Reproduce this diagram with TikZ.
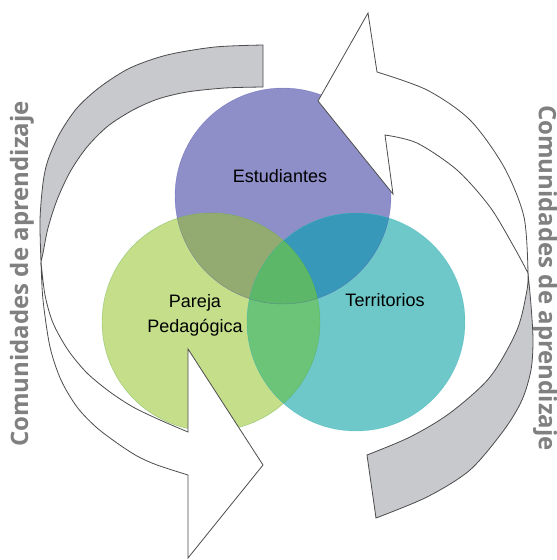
\documentclass[tikz,border=0pt]{standalone}
\usepackage{fontspec}
\setmainfont{Liberation Sans}
\newfontfamily\sidefont{Open Sans}

\definecolor{estblue}{RGB}{142,142,200}
\definecolor{pargreen}{RGB}{196,222,138}
\definecolor{terteal}{RGB}{110,200,201}
\definecolor{estpar}{RGB}{147,171,112}
\definecolor{ester}{RGB}{56,152,185}
\definecolor{parter}{RGB}{108,196,120}
\definecolor{allthree}{RGB}{92,184,104}
\definecolor{backgray}{RGB}{200,201,205}

\newcommand{\circEst}{(283,196) circle (108pt)}
\newcommand{\circPar}{(211,322) circle (109pt)}
\newcommand{\circTer}{(356,322) circle (109pt)}

\begin{document}
\begin{tikzpicture}[x=1pt,y=-1pt,
    ribbon/.style={draw=black!70,line width=0.8pt},
    lbl/.style={font=\fontsize{18}{25}\selectfont,align=center},
    sidetext/.style={font=\sidefont\bfseries\fontsize{24}{28}\selectfont,text=black!50}]
\useasboundingbox (0,0) rectangle (557,560);

		% the three circles
		\fill[estblue]  \circEst;
		\fill[pargreen] \circPar;
		\fill[terteal]  \circTer;
		\begin{scope}
		\clip \circEst;
		\fill[estpar] \circPar;
		\fill[ester]  \circTer;
		\end{scope}
		\begin{scope}
		\clip \circPar;
		\fill[parter] \circTer;
		\end{scope}
		\begin{scope}
		\clip \circEst;
		\clip \circPar;
		\fill[allthree] \circTer;
		\end{scope}
		\draw[estblue!70!blue!80!black,opacity=0.5]  \circEst;
		\draw[pargreen!60!green!70!black,opacity=0.5] \circPar;
		\draw[terteal!60!cyan!80!black,opacity=0.5]  \circTer;

		% left ribbon
		\filldraw[ribbon,fill=backgray] (263,87) -- (263,45)
		  -- plot[smooth] coordinates {(263,45) (215,47) (167,55) (130,68) (100,87) (77,108) (60,133) (48,160) (43,183) (40,220) (41,262)}
		  -- plot[smooth] coordinates {(41,262) (43,253) (48,228) (57,200) (70,172) (87,147) (108,126) (133,110) (158,99) (187,92) (225,88) (263,87)} -- cycle;
		\filldraw[ribbon,fill=white] (41,262)
		  -- plot[smooth] coordinates {(41,262) (43,300) (50,347) (61,380) (77,407) (96,427) (117,443) (137,456) (157,465) (188,475)}
		  -- (188,558) -- (263,465) -- (188,349) -- (188,432)
		  -- plot[smooth] coordinates {(188,432) (160,420) (133,407) (110,392) (87,373) (68,350) (53,323) (45,295) (41,262)} -- cycle;

		% right ribbon
		\filldraw[ribbon,fill=backgray] (367,455) -- (376,518)
		  -- plot[smooth] coordinates {(376,518) (427,497) (470,470) (504,430) (522,400) (531,370) (533,340) (531,305) (528,273)}
		  -- plot[smooth] coordinates {(528,273) (527,290) (517,330) (490,377) (450,413) (410,437) (367,455)} -- cycle;
		\filldraw[ribbon,fill=white] (528,273)
		  -- plot[smooth] coordinates {(528,273) (524,217) (504,167) (470,120) (427,90) (377,72)}
		  -- (368,13) -- (318,101) -- (393,194) -- (385,135)
		  -- plot[smooth] coordinates {(385,135) (417,143) (457,170) (490,207) (514,247) (528,273)} -- cycle;

		\node[lbl] (est) at (280,176) {Estudiantes};
		\node[lbl] (par) at (195,315) {Pareja\\Pedagógica};
		\node[lbl] (ter) at (385,300) {Territorios};
		\node[sidetext,rotate=90]  (comL) at (22,274) {Comunidades de aprendizaje};
		\node[sidetext,rotate=-90] (comR) at (545,278) {Comunidades de aprendizaje};
\end{tikzpicture}
\end{document}
